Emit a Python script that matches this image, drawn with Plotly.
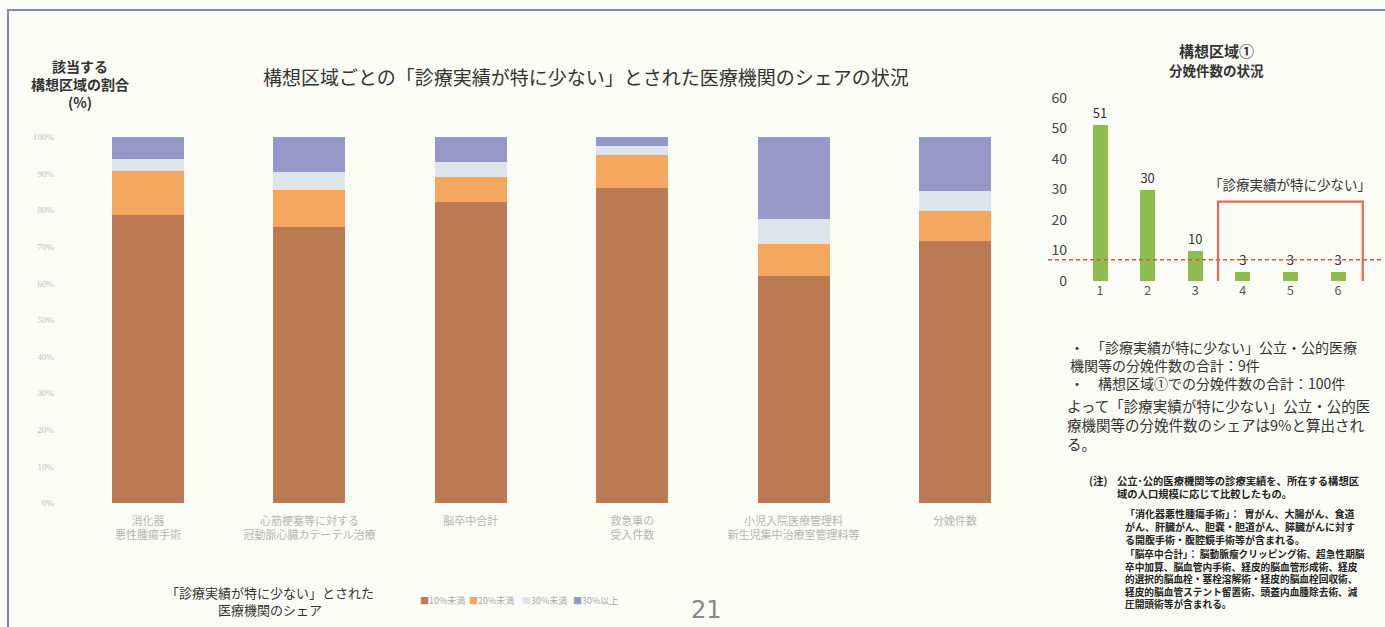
import plotly.graph_objects as go

# ---------------- data ----------------
categories = ["消化器<br>悪性腫瘍手術", "心筋梗塞等に対する<br>冠動脈心臓カテーテル治療", "脳卒中合計",
              "救急車の<br>受入件数", "小児入院医療管理料<br>新生児集中治療室管理料等", "分娩件数"]
series_names = ["10%未満", "20%未満", "30%未満", "30%以上"]
share_lt10 = [78.7, 75.3, 82.2, 86.0, 62.1, 71.7]
share_lt20 = [12.1, 10.2, 6.8, 9.1, 8.7, 8.2]
share_lt30 = [3.2, 5.0, 4.3, 2.4, 6.8, 5.4]
share_ge30 = [6.0, 9.5, 6.7, 2.5, 22.4, 14.7]
share_ticks = [0, 10, 20, 30, 40, 50, 60, 70, 80, 90, 100]
share_ticktext = [f"{v}%" for v in share_ticks]

hospitals = [1, 2, 3, 4, 5, 6]
deliveries = [51, 30, 10, 3, 3, 3]
threshold = 7
delivery_ticks = [0, 10, 20, 30, 40, 50, 60]

series_values = [share_lt10, share_lt20, share_lt30, share_ge30]
series_colors = ["#bb7a52", "#f6a75f", "#dce5ec", "#9598c8"]

FONT = "Noto Sans CJK JP"
W, H = 1385, 627


def px(x):
    return x / W


def py(y):
    return 1 - y / H


fig = go.Figure()

for name, vals, col in zip(series_names, series_values, series_colors):
    fig.add_trace(go.Bar(x=categories, y=vals, name=name, marker_color=col,
                         marker_line_width=0, width=0.446, xaxis="x", yaxis="y",
                         showlegend=False))

fig.add_trace(go.Bar(x=hospitals, y=deliveries, marker_color="#8fbc4e", marker_line_width=0,
                     width=0.315, xaxis="x2", yaxis="y2", text=deliveries,
                     textposition="outside", cliponaxis=False,
                     textfont=dict(size=13, color="#333", family=FONT), showlegend=False))

# left axes
x_l0, x_l1 = 55, 1040
c0, c5 = 148, 955
u = (c5 - c0) / 5
fig.update_layout(
    xaxis=dict(domain=[px(x_l0), px(x_l1)], range=[-(c0 - x_l0) / u, 5 + (x_l1 - c5) / u],
               showgrid=False, zeroline=False, showline=False, ticks="", automargin=False,
               ticklabelstandoff=10,
               tickfont=dict(size=11, color="#b5b5b5", family=FONT)),
    yaxis=dict(domain=[py(503), py(137)], range=[0, 100], tickvals=share_ticks,
               ticktext=share_ticktext, showgrid=False, zeroline=False, showline=False,
               automargin=False,
               tickfont=dict(size=9, color="#c0c0c0", family="Liberation Serif")),
)

# right axes
r0, r1 = 1068, 1380
rc1, rc6 = 1100, 1338
ru = (rc6 - rc1) / 5
fig.update_layout(
    xaxis2=dict(domain=[px(r0), px(r1)], range=[1 - (rc1 - r0) / ru, 6 + (r1 - rc6) / ru],
                tickvals=hospitals, showgrid=False, zeroline=False, showline=False, ticks="",
                anchor="y2", automargin=False,
                tickfont=dict(size=12.5, color="#555", family=FONT)),
    yaxis2=dict(domain=[py(281), py(98)], range=[0, 60], tickvals=delivery_ticks,
                showgrid=False, zeroline=False, showline=False, anchor="x2", automargin=False,
                tickfont=dict(size=14, color="#444", family=FONT)),
)

fig.update_layout(barmode="stack", width=W, height=H, margin=dict(l=0, r=0, t=0, b=0),
                  paper_bgcolor="#fcfcf7", plot_bgcolor="rgba(0,0,0,0)",
                  font=dict(family=FONT))

shapes = [
    # page frame
    dict(type="line", xref="paper", yref="paper", x0=px(7), x1=1, y0=py(10), y1=py(10),
         line=dict(color="#7f88b2", width=2)),
    dict(type="line", xref="paper", yref="paper", x0=px(8), x1=px(8), y0=py(10), y1=0,
         line=dict(color="#7f88b2", width=2)),
    # threshold dashed line
    dict(type="line", xref="paper", yref="y2", x0=px(1048), x1=px(1383), y0=threshold,
         y1=threshold, line=dict(color="#f04a3a", width=1.5, dash="4px,3px")),
    # highlight rectangle
    dict(type="rect", xref="x2", yref="y2", x0=3.48, x1=6.52, y0=-2, y1=26,
         line=dict(color="#ec6650", width=2.2)),
]
fig.update_layout(shapes=shapes)

ann = []


def a(text, x, y, size, color="#333", xanchor="center", yanchor="middle", align="center",
      weight="normal", family=FONT, xref="paper", yref="paper"):
    ann.append(dict(text=text, x=x, y=y, xref=xref, yref=yref, showarrow=False,
                    xanchor=xanchor, yanchor=yanchor, align=align,
                    font=dict(size=size, color=color, family=family, weight=weight)))


a("構想区域ごとの「診療実績が特に少ない」とされた医療機関のシェアの状況", px(586), py(76), 19, "#333")
a("該当する<br>構想区域の割合<br>(%)", px(80), py(84), 14, "#333", weight="bold")
a("「診療実績が特に少ない」とされた<br>医療機関のシェア", px(270), py(601), 13, "#333")

# legend
leg_x = [418, 467, 520, 571]
for name, col, lx in zip(series_names, series_colors, leg_x):
    a(f"<span style='color:{col}'>■</span>{name}", px(lx), py(600), 9, "#aaaaaa",
      xanchor="left")

a("21", px(706), py(610), 24, "#888", family="DejaVu Sans")

# right chart title & notes
a("構想区域①", px(1216), py(50), 15, "#333", weight="bold")
a("分娩件数の状況", px(1216), py(70), 13.5, "#333", weight="bold")
a("「診療実績が特に少ない」", px(1290), py(184), 13.5, "#333")

a("・　「診療実績が特に少ない」公立・公的医療<br>機関等の分娩件数の合計：9件<br>・　構想区域①での分娩件数の合計：100件",
  px(1068), py(335), 14, "#333", xanchor="left", yanchor="top", align="left")
a("よって「診療実績が特に少ない」公立・公的医<br>療機関等の分娩件数のシェアは9%と算出され<br>る。",
  px(1065), py(393), 14.5, "#333", xanchor="left", yanchor="top", align="left")

a("(注)", px(1087), py(471), 10.5, "#222", xanchor="left", yanchor="top", weight="bold")
a("公立･公的医療機関等の診療実績を、所在する構想区<br>域の人口規模に応じて比較したもの。",
  px(1115), py(471), 10.3, "#222", xanchor="left", yanchor="top", align="left", weight="bold")
a("「消化器悪性腫瘍手術」：  胃がん、大腸がん、食道<br>がん、肝臓がん、胆嚢・胆道がん、膵臓がんに対す<br>る開腹手術・腹腔鏡手術等が含まれる。",
  px(1123), py(504), 10, "#222", xanchor="left", yanchor="top", align="left", weight="bold")
a("「脳卒中合計」： 脳動脈瘤クリッピング術、超急性期脳<br>卒中加算、脳血管内手術、経皮的脳血管形成術、経皮<br>的選択的脳血栓・塞栓溶解術・経皮的脳血栓回収術、<br>経皮的脳血管ステント留置術、頭蓋内血腫除去術、減<br>圧開頭術等が含まれる。",
  px(1123), py(545), 9.7, "#222", xanchor="left", yanchor="top", align="left", weight="bold")

fig.update_layout(annotations=ann)

fig.write_html("out.html", config={"displayModeBar": False},
               post_script="document.body.style.margin='0px';")
